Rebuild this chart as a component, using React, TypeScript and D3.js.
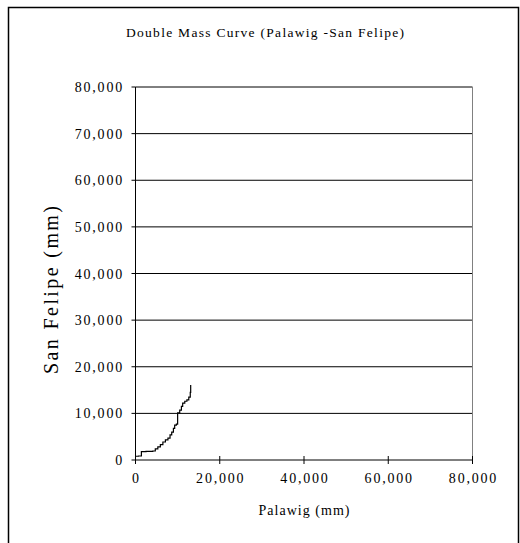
import React from "react";
import * as d3 from "d3";

const palawig = [0, 700, 1400, 2500, 4100, 4700, 5300, 5900, 6500, 7100, 7700, 8200, 8600, 9000, 9300, 9700, 10000, 10000, 10500, 10900, 11200, 11700, 12200, 12650, 13000, 13100];
const sanFelipe = [800, 860, 1780, 1850, 1930, 2400, 2800, 3300, 3860, 4300, 4700, 5400, 6000, 6800, 7500, 7700, 7900, 10100, 10700, 11500, 12200, 12600, 12900, 13500, 14500, 16100];
const xTicks = [0, 20000, 40000, 60000, 80000];
const yTicks = [0, 10000, 20000, 30000, 40000, 50000, 60000, 70000, 80000];
const title = "Double Mass Curve (Palawig -San Felipe)";
const xTitle = "Palawig  (mm)";
const yTitle = "San Felipe  (mm)";

export default function App() {
  const W = 520, H = 543;
  const left = 135.5, right = 472.5, top = 87, bottom = 460;
  const x = d3.scaleLinear().domain([0, 80000]).range([left, right]);
  const y = d3.scaleLinear().domain([0, 80000]).range([bottom, top]);
  const fmt = d3.format(",");
  const pts = palawig.map((v, i) => [v, sanFelipe[i]] as [number, number]);
  const line = d3.line<[number, number]>().x(d => x(d[0])).y(d => y(d[1])).curve(d3.curveStepAfter);
  const font = "'Liberation Serif', 'Times New Roman', serif";
  return (
    <svg width={W} height={H} style={{ position: "absolute", left: 0, top: 0, background: "#fff" }} fontFamily={font}>
      <rect x={8.5} y={7.5} width={510} height={560} fill="#fff" stroke="#000" strokeWidth={1.5} />
      <text x={265} y={37} textAnchor="middle" fontSize={13.5} textLength={278} lengthAdjust="spacing">{title}</text>
      {yTicks.filter(t => t > 0).map(t => (
        <line key={"g" + t} x1={left} x2={right} y1={y(t)} y2={y(t)} stroke="#000" strokeWidth={1} />
      ))}
      <line x1={right} x2={right} y1={top} y2={bottom} stroke="#808080" strokeWidth={1} />
      <line x1={left} x2={left} y1={top} y2={bottom} stroke="#000" strokeWidth={1} />
      <line x1={left} x2={right} y1={bottom} y2={bottom} stroke="#000" strokeWidth={1} />
      {yTicks.map(t => (
        <g key={"y" + t}>
          <line x1={left - 4} x2={left} y1={y(t)} y2={y(t)} stroke="#000" />
          <text x={124} y={y(t) + 5} textAnchor="end" fontSize={14} letterSpacing={1.8}>{fmt(t)}</text>
        </g>
      ))}
      {xTicks.map(t => (
        <g key={"x" + t}>
          <line x1={x(t)} x2={x(t)} y1={bottom - 4} y2={bottom + 4} stroke="#000" />
          <text x={x(t) + 1} y={bottom + 23} textAnchor="middle" fontSize={14} letterSpacing={1.8}>{fmt(t)}</text>
        </g>
      ))}
      <text x={304} y={515} textAnchor="middle" fontSize={14} textLength={91} lengthAdjust="spacing">{xTitle}</text>
      <text transform={`translate(58,290) rotate(-90)`} textAnchor="middle" fontSize={20} textLength={168} lengthAdjust="spacing">{yTitle}</text>
      <path d={line(pts) || ""} fill="none" stroke="#000" strokeWidth={1.2} />
    </svg>
  );
}
